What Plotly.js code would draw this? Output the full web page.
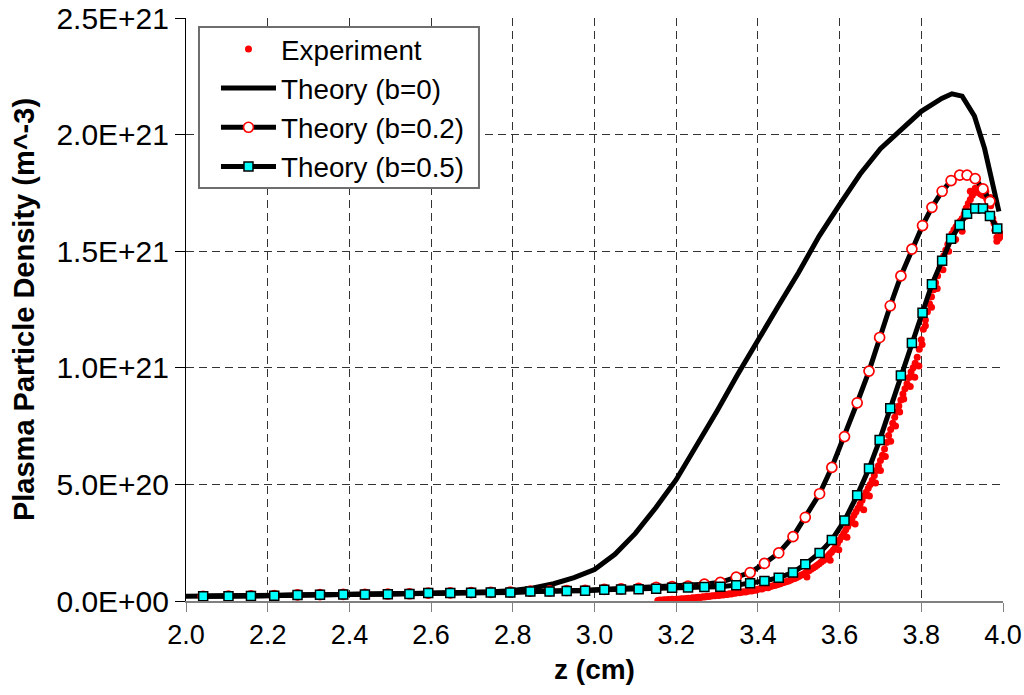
<!DOCTYPE html>
<html>
<head>
<meta charset="utf-8">
<script src="https://cdn.plot.ly/plotly-3.0.1.min.js"></script>
<style>
html,body{margin:0;padding:0;background:#fff;}
#chart{width:1024px;height:695px;}
</style>
</head>
<body>
<div id="chart"></div>
<script>
// ---- Data (densities in units of 1E+21 m^-3, z in cm) ----
const seriesNames = ["Experiment", "Theory (b=0)", "Theory (b=0.2)", "Theory (b=0.5)"];

const expZ = [3.155,3.160,3.165,3.170,3.175,3.180,3.185,3.190,3.195,3.200,3.205,3.210,3.215,3.220,3.225,3.230,3.235,3.240,3.245,3.250,3.255,3.260,3.265,3.270,3.275,3.280,3.285,3.290,3.295,3.300,3.305,3.310,3.315,3.320,3.325,3.330,3.335,3.340,3.345,3.350,3.355,3.360,3.365,3.370,3.375,3.380,3.385,3.390,3.395,3.400,3.405,3.410,3.415,3.420,3.425,3.430,3.435,3.440,3.445,3.450,3.455,3.460,3.465,3.470,3.475,3.480,3.485,3.490,3.495,3.500,3.505,3.510,3.515,3.520,3.525,3.530,3.535,3.540,3.545,3.550,3.555,3.560,3.565,3.570,3.575,3.580,3.585,3.590,3.595,3.600,3.605,3.610,3.615,3.620,3.625,3.630,3.635,3.640,3.645,3.650,3.655,3.660,3.665,3.670,3.675,3.680,3.685,3.690,3.695,3.700,3.705,3.710,3.715,3.720,3.725,3.730,3.735,3.740,3.745,3.750,3.755,3.760,3.765,3.770,3.775,3.780,3.785,3.790,3.795,3.800,3.805,3.810,3.815,3.820,3.825,3.830,3.835,3.840,3.845,3.850,3.855,3.860,3.865,3.870,3.875,3.880,3.885,3.890,3.895,3.900,3.905,3.910,3.915,3.920,3.925,3.930,3.935,3.940,3.945,3.950,3.955,3.960,3.965,3.970,3.975,3.980,3.985,3.990,3.995,
  3.520,3.561,3.577,3.598,3.618,3.638,3.659,3.673,3.688,3.700,3.712,3.725,3.737,3.747,3.757,3.773,3.784,3.794,3.802,3.810,3.825,3.839,3.853,3.867,3.884,3.900,3.910,3.920,3.932,3.945,3.958,3.969,3.978,3.985,3.997];
const expN = [0.002,0.004,0.003,0.005,0.004,0.006,0.005,0.007,0.006,0.008,0.007,0.009,0.010,0.009,0.011,0.012,0.011,0.014,0.013,0.015,0.016,0.015,0.018,0.017,0.020,0.019,0.021,0.023,0.022,0.025,0.024,0.027,0.026,0.029,0.028,0.031,0.030,0.034,0.033,0.036,0.035,0.038,0.040,0.039,0.042,0.044,0.043,0.047,0.046,0.050,0.052,0.051,0.056,0.058,0.057,0.062,0.064,0.066,0.069,0.072,0.074,0.078,0.080,0.084,0.086,0.090,0.094,0.097,0.101,0.105,0.110,0.114,0.119,0.125,0.130,0.136,0.141,0.147,0.153,0.160,0.167,0.175,0.183,0.191,0.200,0.209,0.220,0.232,0.248,0.262,0.275,0.290,0.305,0.320,0.336,0.352,0.368,0.383,0.398,0.415,0.432,0.450,0.466,0.484,0.500,0.518,0.538,0.560,0.580,0.602,0.625,0.652,0.680,0.710,0.735,0.762,0.788,0.812,0.836,0.862,0.888,0.910,0.932,0.958,0.982,1.000,1.020,1.045,1.080,1.120,1.165,1.205,1.240,1.275,1.305,1.335,1.365,1.395,1.425,1.452,1.480,1.505,1.530,1.555,1.575,1.592,1.605,1.618,1.628,1.640,1.660,1.685,1.705,1.722,1.740,1.752,1.758,1.752,1.745,1.740,1.738,1.725,1.712,1.695,1.640,1.590,1.560,1.555,1.575,
  0.103,0.175,0.175,0.220,0.273,0.330,0.391,0.450,0.506,0.560,0.620,0.685,0.750,0.810,0.866,0.920,0.960,1.008,1.100,1.180,1.260,1.340,1.420,1.500,1.550,1.586,1.650,1.757,1.770,1.765,1.755,1.730,1.620,1.543,1.565];

const b0Z = [2.00,2.10,2.20,2.30,2.40,2.50,2.60,2.70,2.75,2.80,2.85,2.90,2.95,3.00,3.05,3.10,3.15,3.20,3.25,3.30,3.35,3.40,3.45,3.50,3.55,3.60,3.65,3.70,3.75,3.80,3.85,3.875,3.90,3.93,3.955,3.98,3.99];
const b0N = [0.020,0.021,0.023,0.026,0.028,0.030,0.033,0.036,0.040,0.045,0.056,0.074,0.100,0.135,0.200,0.290,0.400,0.520,0.665,0.815,0.970,1.122,1.265,1.410,1.565,1.700,1.830,1.940,2.020,2.100,2.155,2.175,2.165,2.080,1.940,1.750,1.670];

const thZ = [2.042,2.104,2.159,2.216,2.273,2.328,2.385,2.438,2.494,2.547,2.593,2.647,2.698,2.746,2.794,2.843,2.890,2.932,2.977,3.024,3.065,3.108,3.151,3.190,3.229,3.269,3.308,3.347,3.381,3.416,3.451,3.486,3.516,3.551,3.581,3.612,3.643,3.672,3.698,3.724,3.750,3.777,3.803,3.826,3.851,3.873,3.894,3.912,3.932,3.951,3.968,3.986];
const b02N = [0.020,0.021,0.022,0.023,0.026,0.027,0.028,0.029,0.030,0.031,0.034,0.035,0.036,0.037,0.038,0.042,0.043,0.045,0.046,0.050,0.052,0.054,0.058,0.062,0.064,0.072,0.080,0.102,0.122,0.161,0.206,0.276,0.359,0.460,0.573,0.705,0.850,0.986,1.130,1.266,1.394,1.509,1.610,1.688,1.757,1.803,1.826,1.826,1.811,1.767,1.714,null];
const b05N = [0.020,0.020,0.021,0.022,0.026,0.027,0.028,0.028,0.029,0.030,0.034,0.034,0.035,0.036,0.036,0.041,0.041,0.043,0.044,0.048,0.049,0.050,0.053,0.057,0.058,0.060,0.061,0.068,0.076,0.086,0.100,0.122,0.158,0.206,0.262,0.345,0.453,0.568,0.690,0.827,0.967,1.106,1.236,1.358,1.459,1.553,1.612,1.661,1.683,1.683,1.651,1.597];

const yTickVals = [0, 0.5, 1.0, 1.5, 2.0, 2.5];
const yTickText = ["0.0E+00", "5.0E+20", "1.0E+21", "1.5E+21", "2.0E+21", "2.5E+21"];
const xTickVals = [2.0, 2.2, 2.4, 2.6, 2.8, 3.0, 3.2, 3.4, 3.6, 3.8, 4.0];
const xTickText = ["2.0", "2.2", "2.4", "2.6", "2.8", "3.0", "3.2", "3.4", "3.6", "3.8", "4.0"];

const E21 = 1e21;
const toDensity = a => a.map(v => v === null ? null : v * E21);

const traces = [
  {x: expZ, y: toDensity(expN), name: seriesNames[0], type: 'scatter', mode: 'markers',
   marker: {color: '#ff0000', size: 7, line: {width: 0}}},
  {x: b0Z, y: toDensity(b0N), name: seriesNames[1], type: 'scatter', mode: 'lines',
   line: {color: '#000000', width: 5}},
  {x: thZ, y: toDensity(b02N), name: seriesNames[2], type: 'scatter', mode: 'lines+markers',
   line: {color: '#000000', width: 5},
   marker: {symbol: 'circle', size: 10, color: '#ffffff', line: {color: '#ff0000', width: 1.7}}},
  {x: thZ, y: toDensity(b05N), name: seriesNames[3], type: 'scatter', mode: 'lines+markers',
   line: {color: '#000000', width: 5},
   marker: {symbol: 'square', size: 9, color: '#00ffff', line: {color: '#000000', width: 1.5}}}
];

const fam = '"Liberation Sans", Arial, sans-serif';
const yTicks = yTickVals.map(v => v * E21);

const layout = {
  width: 1024, height: 695,
  margin: {l: 186, r: 21, t: 18, b: 94, pad: 0},
  paper_bgcolor: '#ffffff', plot_bgcolor: '#ffffff',
  font: {family: fam, color: '#000', size: 27},
  showlegend: true,
  legend: {
    x: 0.0367, y: 0.989, xanchor: 'left', yanchor: 'top',
    bgcolor: 'rgba(0,0,0,0)', borderwidth: 0,
    font: {family: fam, size: 27.8, color: '#000'},
    itemwidth: 55, tracegroupgap: 0
  },
  shapes: [{
    type: 'rect', xref: 'paper', yref: 'paper', layer: 'above',
    x0: 0.0159, x1: 0.3586, y0: 0.7084, y1: 0.9846,
    line: {color: '#6e6e6e', width: 2}, fillcolor: '#ffffff'
  }],
  xaxis: {
    range: [2.0, 4.0], tickvals: xTickVals, ticktext: xTickText,
    showgrid: true, gridcolor: '#333333', gridwidth: 1, griddash: '8px,5px',
    showline: true, linecolor: '#808080', linewidth: 1.5,
    ticks: 'outside', ticklen: 9, tickcolor: '#808080', tickwidth: 1,
    zeroline: false, tickfont: {size: 27},
    title: {text: '<b>z (cm)</b>', font: {size: 28}, standoff: 10}
  },
  yaxis: {
    range: [0, 2.5 * E21], tickvals: yTicks, ticktext: yTickText,
    showgrid: true, gridcolor: '#333333', gridwidth: 1, griddash: '8px,5px',
    showline: true, linecolor: '#000000', linewidth: 1,
    ticks: 'outside', ticklen: 10, tickcolor: '#000000', tickwidth: 1,
    zeroline: false, tickfont: {size: 30},
    title: {text: '<b>Plasma Particle Density (m^-3)</b>', font: {size: 29}, standoff: 13}
  },
  yaxis2: {
    overlaying: 'y', side: 'left', range: [0, 2.5 * E21], tickvals: yTicks,
    showticklabels: false, showgrid: false, zeroline: false, showline: false,
    ticks: 'inside', ticklen: 5, tickcolor: '#000000', tickwidth: 1
  }
};

Plotly.newPlot('chart', traces, layout, {displayModeBar: false, staticPlot: true});
</script>
</body>
</html>
